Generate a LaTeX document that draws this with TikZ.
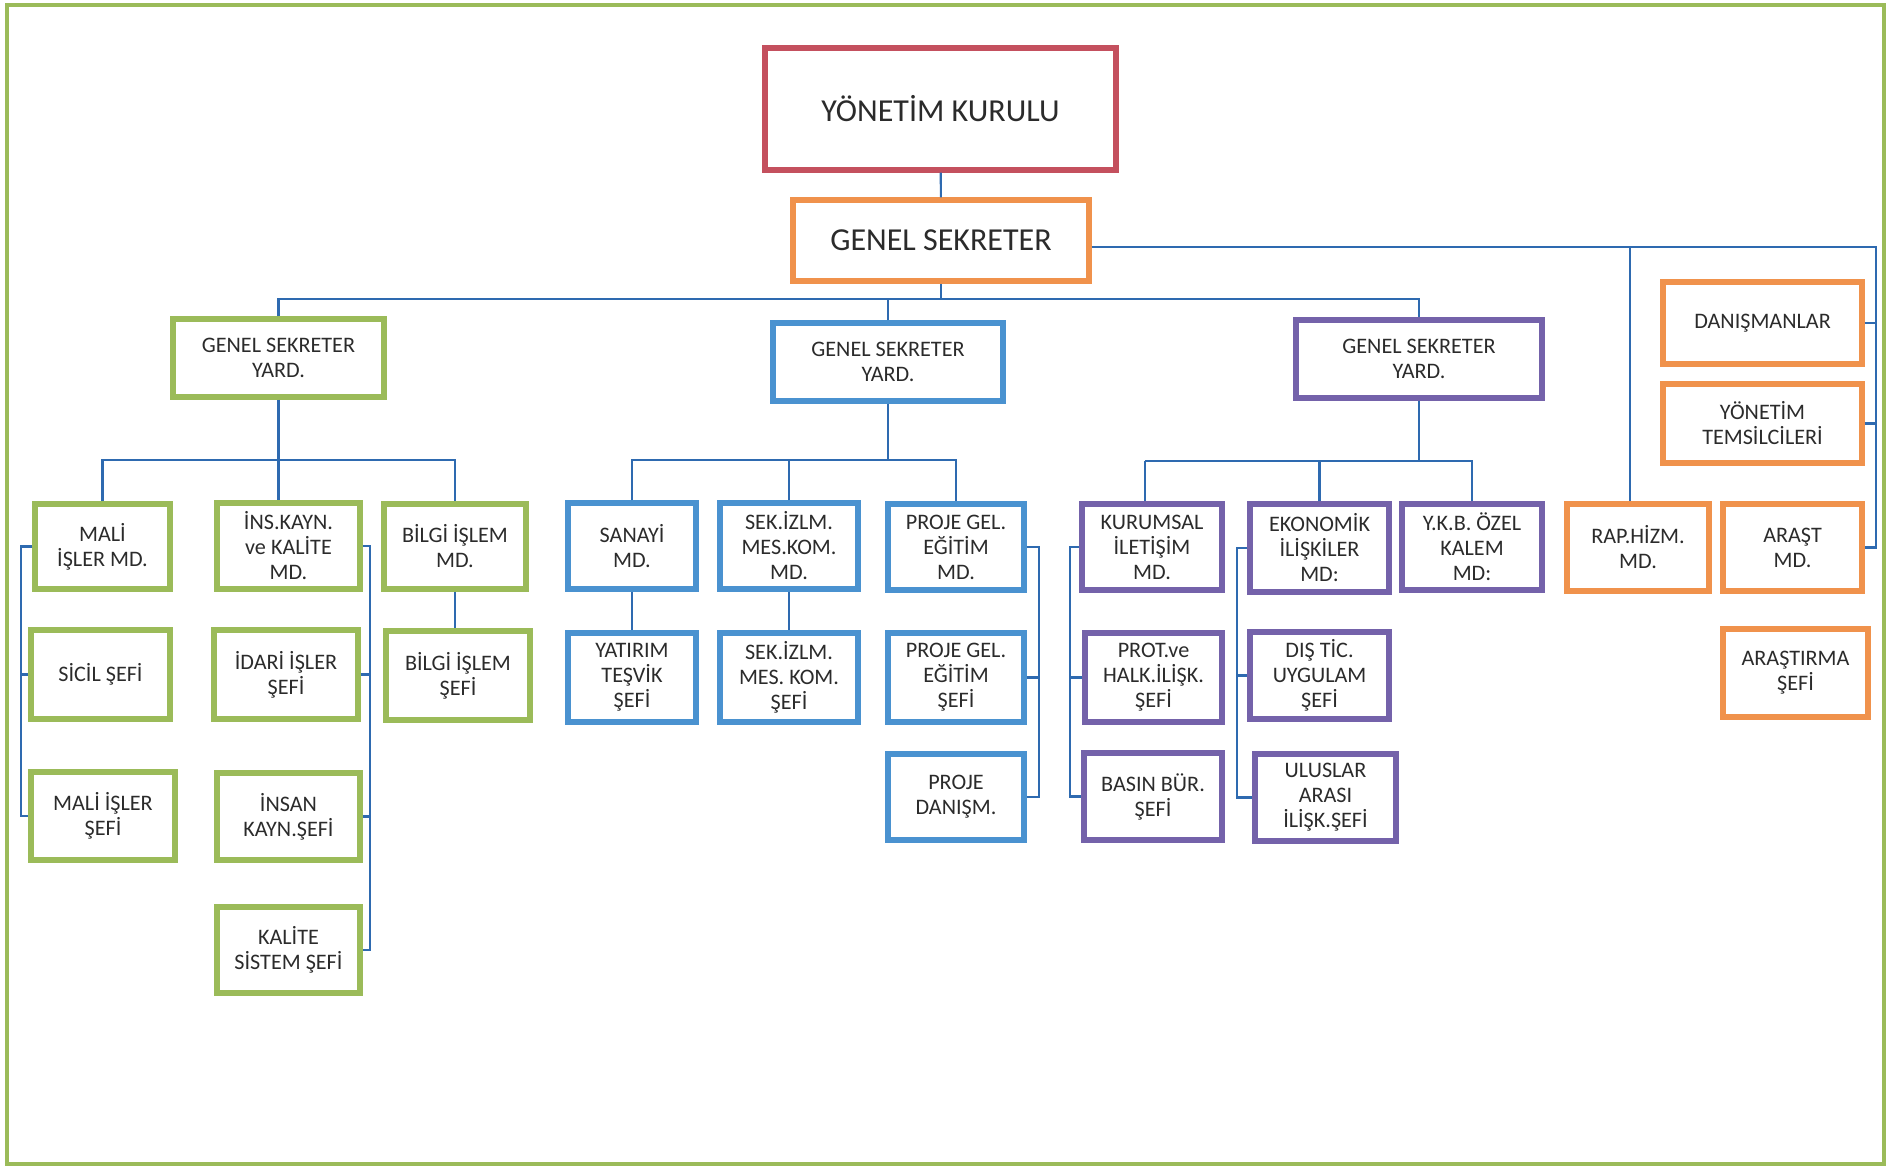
\documentclass[tikz,border=0pt]{standalone}
\usepackage{fontspec}
\setmainfont{Carlito}
\usetikzlibrary{math}

\definecolor{yesil}{HTML}{9BBB59}
\definecolor{kirmizi}{HTML}{C4505E}
\definecolor{turuncu}{HTML}{F0924C}
\definecolor{mavi}{HTML}{4A92D0}
\definecolor{mor}{HTML}{7462AA}
\definecolor{hatrenk}{HTML}{2E6AB0}
\definecolor{yazi}{HTML}{2B2B2B}

\begin{document}
\begin{tikzpicture}[x=0.01cm, y=-0.01cm,
  kutu/.style n args={3}{draw=#1, line width=1.5pt, minimum width=#2*0.01cm, minimum height=#3*0.01cm,
    inner sep=0pt, align=center, text=yazi, font=\fontsize{6.3}{7.1}\selectfont},
  buyuk/.style={font=\fontsize{9.1}{11}\selectfont},
  hat/.style={draw=hatrenk, line width=0.6pt}]

\tikzmath{
  \ust = 299; \sag = 247;
  \ya = 460; \yb = 460; \yc = 461;
  \km = 21; \ki = 370; \kp = 1039; \kk = 1070; \ke = 1237;
  \kr = 1630; \ks = 1876;
}

\useasboundingbox (0,0) rectangle (1892,1168);
\draw[yesil, line width=1.3pt] (7,5) rectangle (1884,1164);

% ust kademe
\node[kutu={kirmizi}{351}{122}, buyuk] (yk) at (940.5,109) {YÖNETİM KURULU};
\node[kutu={turuncu}{296}{81}, buyuk] (gs) at (941,240.5) {GENEL SEKRETER};

\node[kutu={yesil}{211}{78}] (gsy1) at (278.5,358) {GENEL SEKRETER\\YARD.};
\node[kutu={mavi}{230}{78}] (gsy2) at (888,362) {GENEL SEKRETER\\YARD.};
\node[kutu={mor}{246}{78}] (gsy3) at (1419,359) {GENEL SEKRETER\\YARD.};

\node[kutu={turuncu}{199}{82}] (dan) at (1762.5,323) {DANIŞMANLAR};
\node[kutu={turuncu}{199}{79}] (ytem) at (1762.5,423.5) {YÖNETİM\\TEMSİLCİLERİ};

% yesil kol
\node[kutu={yesil}{135}{85}] (mali) at (102.5,546.5) {MALİ\\İŞLER MD.};
\node[kutu={yesil}{143}{86}] (ins) at (288.5,546) {İNS.KAYN.\\ve KALİTE\\MD.};
\node[kutu={yesil}{142}{85}] (bilgi) at (455,546.5) {BİLGİ İŞLEM\\MD.};
\node[kutu={yesil}{139}{89}] (sicil) at (100.5,674.5) {SİCİL ŞEFİ};
\node[kutu={yesil}{144}{88}] (malisef) at (103,816) {MALİ İŞLER\\ŞEFİ};
\node[kutu={yesil}{144}{89}] (idari) at (286,674.5) {İDARİ İŞLER\\ŞEFİ};
\node[kutu={yesil}{143}{87}] (insan) at (288.5,816.5) {İNSAN\\KAYN.ŞEFİ};
\node[kutu={yesil}{143}{86}] (kalite) at (288.5,950) {KALİTE\\SİSTEM ŞEFİ};
\node[kutu={yesil}{144}{89}] (bilgisef) at (458,675.5) {BİLGİ İŞLEM\\ŞEFİ};

% mavi kol
\node[kutu={mavi}{128}{86}] (sanayi) at (632,546) {SANAYİ\\MD.};
\node[kutu={mavi}{138}{86}] (sek) at (789,546) {SEK.İZLM.\\MES.KOM.\\MD.};
\node[kutu={mavi}{136}{86}] (proje) at (956,547) {PROJE GEL.\\EĞİTİM\\MD.};
\node[kutu={mavi}{128}{89}] (yatirim) at (632,677.5) {YATIRIM\\TEŞVİK\\ŞEFİ};
\node[kutu={mavi}{138}{89}] (seksef) at (789,677.5) {SEK.İZLM.\\MES. KOM.\\ŞEFİ};
\node[kutu={mavi}{136}{89}] (projesef) at (956,677.5) {PROJE GEL.\\EĞİTİM\\ŞEFİ};
\node[kutu={mavi}{136}{86}] (projedan) at (956,797) {PROJE\\DANIŞM.};

% mor kol
\node[kutu={mor}{140}{86}] (kurumsal) at (1152,547) {KURUMSAL\\İLETİŞİM\\MD.};
\node[kutu={mor}{139}{88}] (ekonomik) at (1319.5,548) {EKONOMİK\\İLİŞKİLER\\MD:};
\node[kutu={mor}{140}{86}] (ykb) at (1472,547) {Y.K.B. ÖZEL\\KALEM\\MD:};
\node[kutu={mor}{137}{89}] (prot) at (1153.5,677.5) {PROT.ve\\HALK.İLİŞK.\\ŞEFİ};
\node[kutu={mor}{138}{87}] (basin) at (1153,796.5) {BASIN BÜR.\\ŞEFİ};
\node[kutu={mor}{139}{87}] (dis) at (1319.5,675.5) {DIŞ TİC.\\UYGULAM\\ŞEFİ};
\node[kutu={mor}{141}{87}] (uluslar) at (1325.5,797.5) {ULUSLAR\\ARASI\\İLİŞK.ŞEFİ};

% turuncu kol
\node[kutu={turuncu}{142}{87}] (rap) at (1638,547.5) {RAP.HİZM.\\MD.};
\node[kutu={turuncu}{139}{87}] (arast) at (1792.5,547.5) {ARAŞT\\MD.};
\node[kutu={turuncu}{145}{88}] (arastsef) at (1795.5,673) {ARAŞTIRMA\\ŞEFİ};

% baglantilar
\draw[hat] (yk) -- (gs);
\draw[hat] (gs.south) -- (gs.south |- 0,\ust);
\draw[hat] (gsy1.north) |- (gsy3.north |- 0,\ust) -- (gsy3.north);
\draw[hat] (gsy2.north) -- (gsy2.north |- 0,\ust);

\draw[hat] (gs.east |- 0,\sag) -| (\ks,0 |- arast.east) -- (arast.east);
\draw[hat] (dan.east) -- (dan.east -| \ks,0);
\draw[hat] (ytem.east) -- (ytem.east -| \ks,0);
\draw[hat] (\kr,\sag) -- (\kr,0 |- rap.north);

\draw[hat] (gsy1.south) -- (gsy1.south |- 0,\ya);
\draw[hat] (mali.north) |- (bilgi.north |- 0,\ya) -- (bilgi.north);
\draw[hat] (gsy1.south |- 0,\ya) -- (gsy1.south |- ins.north);
\draw[hat] (bilgi.south) -- (bilgi.south |- bilgisef.north);
\draw[hat] (mali.west) -- (mali.west -| \km,0) |- (malisef.west);
\draw[hat] (sicil.west) -- (sicil.west -| \km,0);
\draw[hat] (ins.east) -- (ins.east -| \ki,0) |- (kalite.east);
\draw[hat] (idari.east) -- (idari.east -| \ki,0);
\draw[hat] (insan.east) -- (insan.east -| \ki,0);

\draw[hat] (gsy2.south) -- (gsy2.south |- 0,\yb);
\draw[hat] (sanayi.north) |- (proje.north |- 0,\yb) -- (proje.north);
\draw[hat] (sek.north) -- (sek.north |- 0,\yb);
\draw[hat] (sanayi) -- (yatirim);
\draw[hat] (sek) -- (seksef);
\draw[hat] (proje.east) -- (proje.east -| \kp,0) |- (projedan.east);
\draw[hat] (projesef.east) -- (projesef.east -| \kp,0);

\draw[hat] (gsy3.south) -- (gsy3.south |- 0,\yc);
\draw[hat] (1145,\yc) -- (1145,0 |- kurumsal.north);
\draw[hat] (1145,\yc) -| (ykb.north);
\draw[hat] (ekonomik.north) -- (ekonomik.north |- 0,\yc);
\draw[hat] (kurumsal.west) -- (kurumsal.west -| \kk,0) |- (basin.west);
\draw[hat] (prot.west) -- (prot.west -| \kk,0);
\draw[hat] (ekonomik.west) -- (ekonomik.west -| \ke,0) |- (uluslar.west);
\draw[hat] (dis.west) -- (dis.west -| \ke,0);

\end{tikzpicture}
\end{document}
